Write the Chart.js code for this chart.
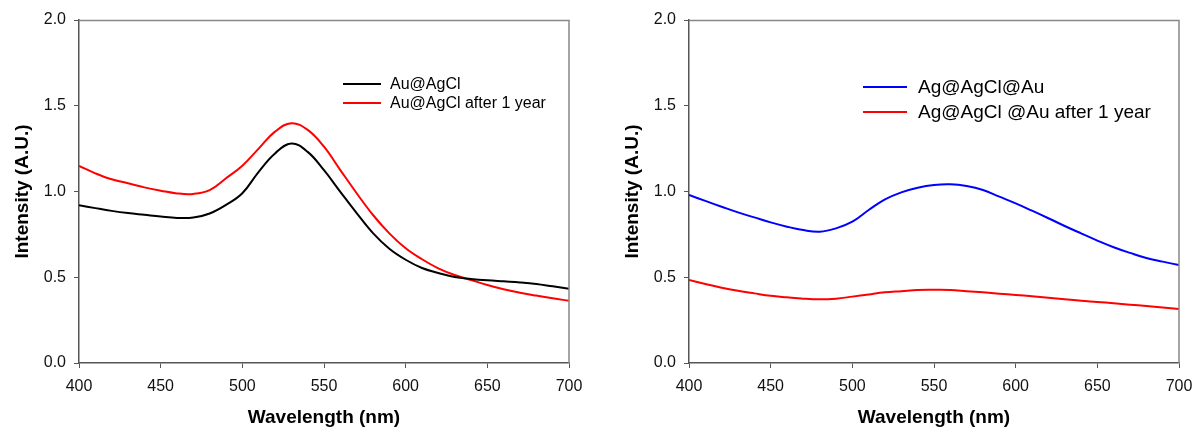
<!DOCTYPE html>
<html><head><meta charset="utf-8">
<script src="https://cdn.jsdelivr.net/npm/chart.js@4"></script>
<style>
html,body{margin:0;padding:0;background:#fff;overflow:hidden;}
#wrap{position:relative;width:1197px;height:431px;}
#c1{position:absolute;left:0;top:0;}
#c2{position:absolute;left:600px;top:0;}
</style></head><body>
<div id="wrap"><canvas id="c1" width="600" height="431"></canvas><canvas id="c2" width="597" height="431"></canvas></div>
<script>
const xTicks = [400,450,500,550,600,650,700];
const yTicks = [0.0,0.5,1.0,1.5,2.0];

const wavelength = [400,410,420,430,440,450,460,470,480,490,500,510,520,530,540,550,560,570,580,590,600,610,620,630,640,650,660,670,680,690,700];

const auAgCl =      [0.920,0.903,0.887,0.874,0.864,0.854,0.846,0.848,0.872,0.922,0.990,1.115,1.222,1.280,1.231,1.124,0.998,0.874,0.757,0.666,0.602,0.554,0.525,0.501,0.490,0.482,0.476,0.470,0.461,0.447,0.433];
const auAgClYear =  [1.149,1.106,1.071,1.048,1.024,1.005,0.989,0.986,1.008,1.077,1.150,1.250,1.349,1.398,1.359,1.261,1.125,0.990,0.863,0.756,0.669,0.605,0.552,0.513,0.484,0.455,0.430,0.410,0.393,0.377,0.363];

const agAgClAu =     [0.980,0.945,0.911,0.878,0.849,0.820,0.795,0.775,0.766,0.785,0.824,0.892,0.954,0.995,1.022,1.038,1.042,1.032,1.009,0.970,0.931,0.888,0.844,0.799,0.756,0.714,0.675,0.642,0.612,0.591,0.571];
const agAgClAuYear = [0.484,0.461,0.439,0.421,0.406,0.392,0.383,0.375,0.371,0.375,0.387,0.400,0.412,0.419,0.426,0.427,0.426,0.419,0.412,0.404,0.397,0.389,0.381,0.372,0.363,0.356,0.348,0.340,0.332,0.323,0.315];

const pts = (xs, ys) => xs.map((x,i)=>({x:x,y:ys[i]}));
const FONT = "'Liberation Sans', Arial, sans-serif";

function framePlugin(){
  return {id:'frame', afterDatasetsDraw(chart){
    const a = chart.chartArea, ctx = chart.ctx;
    ctx.save();
    ctx.strokeStyle = '#888';
    ctx.lineWidth = 1.5;
    ctx.beginPath();
    ctx.moveTo(a.left, a.top+0.5); ctx.lineTo(a.right, a.top+0.5); ctx.lineTo(a.right, a.bottom);
    ctx.stroke();
    ctx.restore();
  }};
}
function legendPlugin(cfg){
  return {id:'customLegend', afterDraw(chart){
    const ctx = chart.ctx;
    ctx.save();
    ctx.font = cfg.size + "px " + FONT;
    ctx.textBaseline = 'middle';
    chart.data.datasets.forEach((ds,i)=>{
      const y = cfg.y + i*cfg.gap;
      ctx.strokeStyle = ds.borderColor; ctx.lineWidth = 2;
      ctx.beginPath(); ctx.moveTo(cfg.x1, y); ctx.lineTo(cfg.x2, y); ctx.stroke();
      ctx.fillStyle = '#000';
      ctx.fillText(ds.label, cfg.tx, y+1);
    });
    ctx.restore();
  }};
}

function makeChart(id, datasets, leftW, rightPad, titlePad, legendCfg){
  return new Chart(document.getElementById(id), {
    type:'line',
    data:{datasets:datasets},
    options:{
      responsive:false, animation:false,
      layout:{padding:{top:20,right:rightPad,left:0,bottom:0}},
      plugins:{legend:{display:false}, tooltip:{enabled:false}},
      elements:{point:{radius:0}, line:{borderWidth:2, tension:0.4}},
      scales:{
        x:{type:'linear', min:400, max:700,
          afterBuildTicks(s){ s.ticks = xTicks.map(v=>({value:v})); },
          afterFit(s){ s.height = 68; s.paddingLeft = 0; s.paddingRight = 0; },
          grid:{drawOnChartArea:false, drawTicks:true, tickLength:5, color:'#555', lineWidth:1},
          border:{display:true, color:'#555', width:1.5},
          ticks:{color:'#111', font:{family:FONT, size:16}, padding:9, maxRotation:0},
          title:{display:true, text:'Wavelength (nm)', color:'#000', font:{family:FONT, size:19, weight:'bold'}, padding:{top:8,bottom:2}}
        },
        y:{type:'linear', min:0, max:2,
          afterBuildTicks(s){ s.ticks = yTicks.map(v=>({value:v})); },
          afterFit(s){ s.width = leftW; s.paddingTop = 0; s.paddingBottom = 0; },
          grid:{drawOnChartArea:false, drawTicks:true, tickLength:5, color:'#555', lineWidth:1},
          border:{display:true, color:'#555', width:1.5},
          ticks:{color:'#111', font:{family:FONT, size:16}, padding:8, callback:v=>v.toFixed(1)},
          title:{display:true, text:'Intensity (A.U.)', color:'#000', font:{family:FONT, size:19, weight:'bold'}, padding:{top:titlePad,bottom:6}}
        }
      }
    },
    plugins:[framePlugin(), legendPlugin(legendCfg)]
  });
}

makeChart('c1', [
  {label:'Au@AgCl', data:pts(wavelength, auAgCl), borderColor:'#000000', fill:false},
  {label:'Au@AgCl after 1 year', data:pts(wavelength, auAgClYear), borderColor:'#ff0000', fill:false}
], 79, 31, 11, {x1:343, x2:381, tx:390, y:84, gap:19, size:16});

makeChart('c2', [
  {label:'Ag@AgCl@Au', data:pts(wavelength, agAgClAu), borderColor:'#0000ff', fill:false},
  {label:'Ag@AgCl @Au after 1 year', data:pts(wavelength, agAgClAuYear), borderColor:'#ff0000', fill:false}
], 89, 18, 21, {x1:263, x2:307, tx:318, y:87, gap:25, size:19});
</script>
</body></html>
